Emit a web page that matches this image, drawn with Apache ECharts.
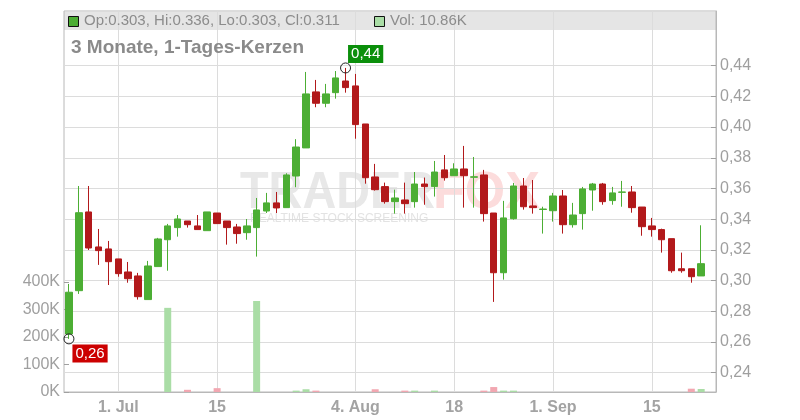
<!DOCTYPE html>
<html><head><meta charset="utf-8">
<script src="https://cdn.jsdelivr.net/npm/echarts@6/dist/echarts.min.js"></script>
<style>html,body{margin:0;padding:0;background:#fff}#c{width:800px;height:420px}</style>
</head><body><div id="c"></div>
<script>
const dates = [
  '2025-06-24','2025-06-25','2025-06-26','2025-06-27','2025-06-30',
  '2025-07-01','2025-07-02','2025-07-03','2025-07-04','2025-07-07','2025-07-08','2025-07-09','2025-07-10','2025-07-11','2025-07-14',
  '2025-07-15','2025-07-16','2025-07-17','2025-07-18','2025-07-21','2025-07-22','2025-07-23','2025-07-24','2025-07-25','2025-07-28','2025-07-29','2025-07-30','2025-07-31','2025-08-01',
  '2025-08-04','2025-08-05','2025-08-06','2025-08-07','2025-08-08','2025-08-11','2025-08-12','2025-08-13','2025-08-14','2025-08-15',
  '2025-08-18','2025-08-19','2025-08-20','2025-08-21','2025-08-22','2025-08-25','2025-08-26','2025-08-27','2025-08-28','2025-08-29',
  '2025-09-01','2025-09-02','2025-09-03','2025-09-04','2025-09-05','2025-09-08','2025-09-09','2025-09-10','2025-09-11','2025-09-12',
  '2025-09-15','2025-09-16','2025-09-17','2025-09-18','2025-09-19','2025-09-22'
];
const opens = [
  0.2652,0.2934,0.3447,0.3219,0.3206,0.3141,0.3056,0.3030,0.2876,0.3091,
  0.3266,0.3345,0.3388,0.3356,0.3325,0.3440,0.3388,0.3349,0.3312,0.3345,
  0.3453,0.3506,0.3475,0.3681,0.3864,0.4229,0.4155,0.4224,0.4300,0.4268,
  0.4020,0.3675,0.3612,0.3514,0.3525,0.3514,0.3629,0.3612,0.3721,0.3683,
  0.3727,0.3673,0.3688,0.3440,0.3051,0.3403,0.3616,0.3486,0.3463,0.3455,
  0.3551,0.3364,0.3436,0.3590,0.3629,0.3521,0.3575,0.3577,0.3479,0.3356,
  0.3332,0.3273,0.3077,0.3077,0.3030
];
const closes = [
  0.2924,0.3442,0.3212,0.3195,0.3123,0.3045,0.3012,0.2895,0.3095,0.3271,
  0.3356,0.3401,0.3364,0.3332,0.3447,0.3371,0.3345,0.3306,0.3356,0.3460,
  0.3506,0.3473,0.3688,0.3870,0.4216,0.4155,0.4216,0.4320,0.4257,0.4016,
  0.3670,0.3592,0.3514,0.3538,0.3501,0.3629,0.3612,0.3707,0.3670,0.3727,
  0.3683,0.3676,0.3436,0.3051,0.3408,0.3616,0.3481,0.3475,0.3466,0.3551,
  0.3364,0.3427,0.3597,0.3629,0.3514,0.3571,0.3577,0.3475,0.3351,0.3332,
  0.3266,0.3064,0.3064,0.3025,0.3110
];
const lows = [
  0.2620,0.2913,0.3199,0.3102,0.2971,0.3025,0.2986,0.2876,0.2876,0.3091,
  0.3064,0.3286,0.3345,0.3332,0.3325,0.3371,0.3234,0.3240,0.3266,0.3156,
  0.3440,0.3440,0.3475,0.3608,0.3864,0.4129,0.4129,0.4185,0.4224,0.3924,
  0.3631,0.3586,0.3501,0.3436,0.3436,0.3475,0.3494,0.3547,0.3651,0.3683,
  0.3475,0.3475,0.3384,0.2861,0.3006,0.3397,0.3462,0.3436,0.3306,0.3384,
  0.3306,0.3345,0.3332,0.3455,0.3494,0.3494,0.3481,0.3442,0.3292,0.3286,
  0.3182,0.3051,0.3051,0.2986,0.3030
];
const highs = [
  0.2978,0.3616,0.3616,0.3336,0.3258,0.3141,0.3121,0.3050,0.3128,0.3278,
  0.3369,0.3427,0.3388,0.3427,0.3447,0.3440,0.3388,0.3369,0.3401,0.3538,
  0.3571,0.3577,0.3699,0.3921,0.4359,0.4307,0.4281,0.4365,0.4385,0.4346,
  0.4020,0.3760,0.3638,0.3592,0.3638,0.3707,0.3671,0.3779,0.3818,0.3764,
  0.3877,0.3805,0.3721,0.3440,0.3519,0.3636,0.3668,0.3655,0.3481,0.3571,
  0.3590,0.3506,0.3610,0.3636,0.3636,0.3610,0.3649,0.3616,0.3479,0.3408,
  0.3338,0.3273,0.3182,0.3077,0.3360
];
const volumes = [
  0,0,0,0,0,0,0,0,0,0,
  306000,0,8000,0,0,14000,0,0,0,331000,
  0,0,0,5000,10000,5000,0,0,0,0,
  0,10000,0,0,5000,5000,0,5000,0,0,
  0,0,5000,18000,5000,5000,0,0,0,0,
  0,0,0,0,0,0,0,0,0,0,
  0,0,0,12000,10860
];
const priceTicks = [0.24,0.26,0.28,0.30,0.32,0.34,0.36,0.38,0.40,0.42,0.44];
const tickDates = ['2025-07-01','2025-07-15','2025-08-04','2025-08-18','2025-09-01','2025-09-15'];
const tickLabels = ['1. Jul','15','4. Aug','18','1. Sep','15'];
const highMark = {date: '2025-08-01', value: 0.4385, text: '0,44'};
const lowMark = {date: '2025-06-24', value: 0.2620, text: '0,26'};
const headerText = 'Op:0.303, Hi:0.336, Lo:0.303, Cl:0.311';
const volText = 'Vol: 10.86K';
const titleText = '3 Monate, 1-Tages-Kerzen';

const UP = '#4cae34', DOWN = '#b2191b', VUP = '#aadda6', VDOWN = '#f2a7b1';
const cats = dates.concat(['']);
const FONT = 'Liberation Sans, Arial, sans-serif';
const candleData = dates.map((d, i) => [opens[i], closes[i], lows[i], highs[i]]);
const volData = dates.map((d, i) => ({value: volumes[i], itemStyle: {color: closes[i] >= opens[i] ? VUP : VDOWN}}));
const isTick = (idx, val) => tickDates.indexOf(val) >= 0;

const chart = echarts.init(document.getElementById('c'), null, {renderer: 'canvas'});
chart.setOption({
  animation: false,
  textStyle: {fontFamily: FONT},
  grid: [
    {left: 64, right: 84, top: 11, bottom: 28, show: true, borderColor: '#b8b8b8', borderWidth: 1, backgroundColor: 'transparent'},
    {left: 64, right: 84, top: 282, bottom: 28, show: false}
  ],
  xAxis: [
    {type: 'category', gridIndex: 0, data: cats, boundaryGap: true,
     axisLine: {show: true, lineStyle: {color: '#b8b8b8'}},
     axisTick: {show: false, alignWithLabel: true, interval: isTick},
     axisLabel: {show: true, interval: isTick, margin: 8, color: '#a3a3a3', fontSize: 16, fontWeight: 'bold', fontFamily: FONT,
       formatter: (v) => { const k = tickDates.indexOf(v); return k >= 0 ? tickLabels[k] : ''; }},
     splitLine: {show: true, alignWithLabel: true, interval: isTick, lineStyle: {color: '#dcdcdc', width: 1}}},
    {type: 'category', gridIndex: 1, data: cats, boundaryGap: true, show: false}
  ],
  yAxis: [
    {type: 'value', gridIndex: 0, position: 'right', min: 0.2274, max: 0.4756,
     axisLine: {show: true, lineStyle: {color: '#b8b8b8'}},
     axisTick: {show: true, inside: true, length: 5, customValues: priceTicks, lineStyle: {color: '#a0a0a0'}},
     axisLabel: {customValues: priceTicks, margin: 4, color: '#9f9f9f', fontSize: 16, fontFamily: FONT,
       formatter: (v) => v.toFixed(2).replace('.', ',')},
     splitLine: {show: true, lineStyle: {color: '#dcdcdc', width: 1}}},
    {type: 'value', gridIndex: 1, position: 'left', min: 0, max: 400000, interval: 100000,
     axisLine: {show: false},
     axisTick: {show: true, inside: true, length: 5, lineStyle: {color: '#a0a0a0'}},
     axisLabel: {margin: 4, color: '#9f9f9f', fontSize: 16, fontFamily: FONT, formatter: (v) => (v / 1000) + 'K'},
     splitLine: {show: false}}
  ],
  graphic: [
    {type: 'rect', z: -10, silent: true, shape: {x: 64, y: 12, width: 652, height: 18}, style: {fill: '#e5e5e5'}},
    {type: 'text', z: -9, silent: true, x: 240, y: 168, scaleX: 0.9,
     style: {text: 'TRADER', font: 'bold 52px ' + FONT, fill: '#e8e8e8'}},
    {type: 'text', z: -9, silent: true, x: 433, y: 168,
     style: {text: 'FOX', font: 'bold 52px ' + FONT, fill: '#fcdcdc'}},
    {type: 'text', z: -9, silent: true, x: 250, y: 213,
     style: {text: 'REALTIME STOCK SCREENING', font: '12px ' + FONT, fill: '#e3e3e3'}},
    {type: 'rect', z: 10, silent: true, shape: {x: 68.5, y: 16.5, width: 10, height: 10}, style: {fill: UP, stroke: '#111', lineWidth: 1}},
    {type: 'text', z: 10, silent: true, x: 84, y: 13,
     style: {text: headerText, font: '15px ' + FONT, fill: '#8c8c8c'}},
    {type: 'rect', z: 10, silent: true, shape: {x: 374.5, y: 16.5, width: 10, height: 10}, style: {fill: VUP, stroke: '#111', lineWidth: 1}},
    {type: 'text', z: 10, silent: true, x: 390, y: 13,
     style: {text: volText, font: '15px ' + FONT, fill: '#8c8c8c'}},
    {type: 'text', z: 10, silent: true, x: 71, y: 38,
     style: {text: titleText, font: 'bold 19px ' + FONT, fill: '#8a8a8a'}}
  ],
  series: [
    {type: 'candlestick', xAxisIndex: 0, yAxisIndex: 0, data: candleData, barWidth: 7,
     itemStyle: {color: UP, color0: DOWN, borderColor: UP, borderColor0: DOWN, borderWidth: 1},
     markPoint: {
       symbol: 'circle', symbolSize: 10, silent: true,
       itemStyle: {color: 'rgba(255,255,255,0)', borderColor: '#222', borderWidth: 1},
       data: [
         {coord: [highMark.date, highMark.value],
          label: {show: true, formatter: highMark.text, position: 'right', distance: 0, offset: [-3, -14],
            backgroundColor: '#0b8f0b', color: '#fff', fontSize: 15, lineHeight: 16, padding: [1, 3], fontFamily: FONT}},
         {coord: [lowMark.date, lowMark.value],
          label: {show: true, formatter: lowMark.text, position: 'right', distance: 0, offset: [-2, 14.5],
            backgroundColor: '#cc0000', color: '#fff', fontSize: 15, lineHeight: 16, padding: [1, 3], fontFamily: FONT}}
       ]
     }},
    {type: 'bar', xAxisIndex: 1, yAxisIndex: 1, data: volData, barWidth: 7}
  ]
});
</script></body></html>
